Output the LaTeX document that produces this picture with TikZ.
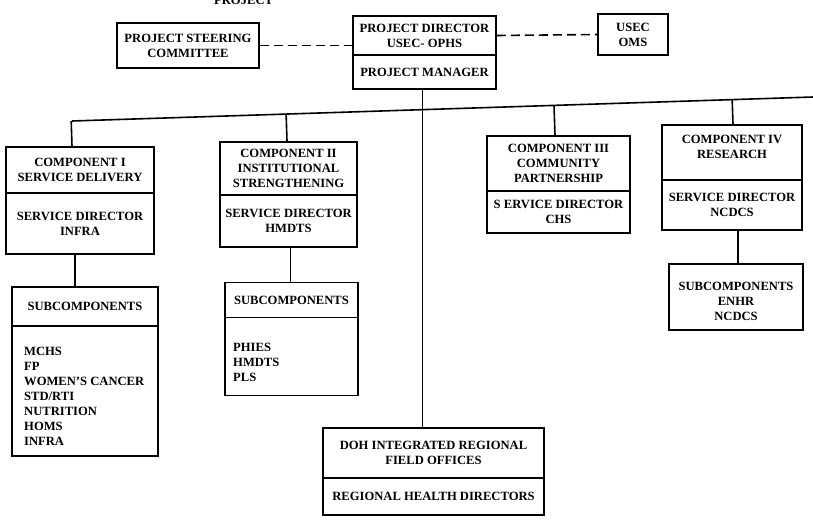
\documentclass[tikz,border=0pt]{standalone}
\usepackage{fontspec}
\setmainfont{Liberation Serif}
\usetikzlibrary{calc}

\begin{document}
\begin{tikzpicture}[
  x=1pt, y=-1pt,
  box/.style={draw, line width=1.8pt, inner sep=0pt, align=center,
    font=\fontsize{12.6}{15}\selectfont\bfseries},
  listtext/.style={inner sep=0pt, align=left,
    font=\fontsize{12.6}{15}\selectfont\bfseries},
  wire/.style={line width=1.6pt},
  dashwire/.style={line width=1.6pt, dash pattern=on 9pt off 5pt},
]
\useasboundingbox (0,0) rectangle (813,523);

% title line, mostly above the page edge
\node[anchor=base west, inner sep=0pt, font=\fontsize{12.6}{15}\selectfont\bfseries] (title) at (214,4) {PROJECT};

% top level
\node[box, minimum width=142pt, minimum height=45pt] (psc) at (188,45.5) {PROJECT STEERING\\COMMITTEE};
\node[box, minimum width=143pt, minimum height=39pt] (pd) at (424.5,35.5) {PROJECT DIRECTOR\\USEC- OPHS};
\node[box, minimum width=143pt, minimum height=34pt] (pm) at (424.5,72) {PROJECT MANAGER};
\node[box, minimum width=70pt, minimum height=41pt] (usec) at (633,34.5) {USEC\\OMS};

\draw[dashwire] (psc.east) -- (pd.west |- psc.east);
\draw[dashwire] (pd.east) -- (usec.west);

% component I
\node[box, minimum width=148pt, minimum height=46pt] (c1h) at (80,170) {COMPONENT I\\SERVICE DELIVERY};
\node[box, minimum width=148pt, minimum height=61pt] (c1s) at (80,223.5) {SERVICE DIRECTOR\\INFRA};
\node[box, minimum width=146pt, minimum height=39pt] (s1h) at (85,306.5) {SUBCOMPONENTS};
\node[box, minimum width=146pt, minimum height=130pt] (s1b) at (85,391) {};
\node[listtext, anchor=north west] (s1list) at (24,347) {MCHS\\FP\\WOMEN'S CANCER\\STD/RTI\\NUTRITION\\HOMS\\INFRA};

% component II
\node[box, minimum width=137pt, minimum height=53pt] (c2h) at (288.5,168.5) {COMPONENT II\\INSTITUTIONAL\\STRENGTHENING};
\node[box, minimum width=137pt, minimum height=52pt] (c2s) at (288.5,221) {SERVICE DIRECTOR\\HMDTS};
\node[box, minimum width=133pt, minimum height=35pt] (s2h) at (291.5,300) {SUBCOMPONENTS};
\node[box, minimum width=133pt, minimum height=78pt] (s2b) at (291.5,356.5) {};
\node[listtext, anchor=north west] (s2list) at (233,343) {PHIES\\HMDTS\\PLS};

% component III
\node[box, minimum width=143pt, minimum height=55pt] (c3h) at (558.5,163.5) {COMPONENT III\\COMMUNITY\\PARTNERSHIP};
\node[box, minimum width=143pt, minimum height=42pt] (c3s) at (558.5,212) {S ERVICE DIRECTOR\\CHS};

% component IV
\node[box, minimum width=140pt, minimum height=55pt] (c4h) at (732,152.5) {COMPONENT IV\\RESEARCH\\[-3pt]};
\node[box, minimum width=140pt, minimum height=50pt] (c4s) at (732,205) {SERVICE DIRECTOR\\NCDCS};
\node[box, minimum width=134pt, minimum height=66pt] (s4) at (736,297) {\rule{0pt}{17pt}SUBCOMPONENTS\\ENHR\\NCDCS};

% regional offices
\node[box, minimum width=221pt, minimum height=50pt] (doh) at (433.5,453) {DOH INTEGRATED REGIONAL\\FIELD OFFICES};
\node[box, minimum width=221pt, minimum height=37pt] (rhd) at (433.5,496.5) {REGIONAL HEALTH DIRECTORS};

% horizontal bus and drops
\coordinate (busL) at (72,121);
\coordinate (busR) at (813,97);
\draw[wire] (busL) -- (busR);
\draw[wire] ([xshift=-8pt]c1h.north) -- ($(busL)!([xshift=-8pt]c1h.north)!(busR)$);
\draw[wire] ([xshift=-1.5pt]c2h.north) -- ($(busL)!([xshift=-1.5pt]c2h.north)!(busR)$);
\draw[wire] ([xshift=-3.5pt]c3h.north) -- ($(busL)!([xshift=-3.5pt]c3h.north)!(busR)$);
\draw[wire] ([xshift=1pt]c4h.north) -- ($(busL)!([xshift=1pt]c4h.north)!(busR)$);

% manager down to the regional offices
\draw[wire] ([xshift=-2pt]pm.south) -- ([xshift=-2pt]pm.south |- doh.north);

% directors down to their subcomponents
\draw[wire] ([xshift=-5pt]c1s.south) -- ([xshift=-5pt]c1s.south |- s1h.north);
\draw[wire] ([xshift=2pt]c2s.south) -- ([xshift=2pt]c2s.south |- s2h.north);
\draw[wire] ([xshift=2pt]s4.north) -- ([xshift=2pt]s4.north |- c4s.south);
\end{tikzpicture}
\end{document}
